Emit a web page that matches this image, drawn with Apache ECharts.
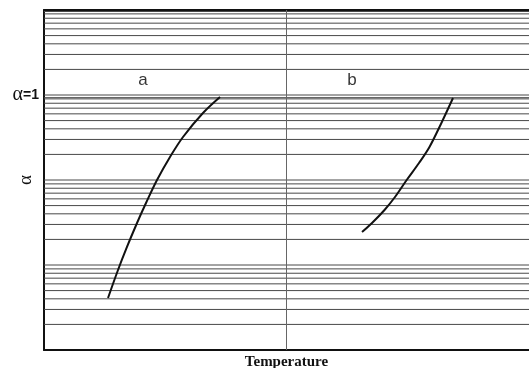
<!DOCTYPE html>
<html>
<head>
<meta charset="utf-8">
<script src="https://cdn.jsdelivr.net/npm/echarts@6/dist/echarts.min.js"></script>
<style>html,body{margin:0;padding:0;background:#fff;}#c{width:529px;height:368px;}</style>
</head>
<body>
<div id="c"></div>
<script>
// Temperature (arbitrary 0-100 scale) and alpha (log scale)
const curveA_T = [13.2, 15.26, 17.11, 19.18, 21.03, 23.3, 25.98, 28.66, 32.78, 36.29];
const curveA_alpha = [0.00409, 0.00873, 0.0163, 0.0312, 0.0536, 0.1, 0.1865, 0.3206, 0.614, 0.947];
const curveB_T = [65.57, 67.63, 70.21, 72.37, 74.78, 77.32, 79.48, 81.94, 84.33];
const curveB_alpha = [0.0244, 0.0312, 0.0444, 0.0631, 0.1, 0.1585, 0.2446, 0.469, 0.922];
// horizontal grid line levels (log paper)
const gridLevels = [
  0.002, 0.003, 0.004, 0.005, 0.006, 0.007, 0.008, 0.009, 0.01,
  0.02, 0.03, 0.04, 0.05, 0.06, 0.07, 0.08, 0.09, 0.1,
  0.2, 0.3, 0.4, 0.5, 0.6, 0.7, 0.8, 0.9, 0.93, 1,
  2, 3, 4, 5, 6, 7, 8, 9, 9.6
];
const dividerT = 50;
const curveLabels = [{name: 'a', T: 20.4, alpha: 1.48}, {name: 'b', T: 63.5, alpha: 1.48}];
const T_MIN = 0, T_MAX = 100, A_MIN = 0.001, A_MAX = 10;

const gridSeries = gridLevels.map(v => ({
  type: 'line', silent: true, symbol: 'none', z: 1,
  data: [[T_MIN, v], [T_MAX, v]],
  lineStyle: {color: '#484848', width: 1}
}));
gridSeries.push({
  type: 'line', silent: true, symbol: 'none', z: 1,
  data: [[dividerT, A_MIN], [dividerT, A_MAX]],
  lineStyle: {color: '#666', width: 1}
});

const chart = echarts.init(document.getElementById('c'));
chart.setOption({
  animation: false,
  grid: {left: 44, right: 0, top: 10, bottom: 18, outerBoundsMode: 'none', containLabel: false},
  xAxis: [{
    type: 'value', min: T_MIN, max: T_MAX,
    name: 'Temperature', nameLocation: 'middle', nameGap: 5, nameMoveOverlap: false,
    nameTextStyle: {fontFamily: 'Liberation Serif', fontWeight: 'bold', fontSize: 15, color: '#111'},
    axisLine: {show: true, lineStyle: {color: '#111', width: 2}},
    axisTick: {show: false}, axisLabel: {show: false}, splitLine: {show: false}
  }, {
    type: 'value', min: T_MIN, max: T_MAX, position: 'top',
    axisLine: {show: true, lineStyle: {color: '#111', width: 2}},
    axisTick: {show: false}, axisLabel: {show: false}, splitLine: {show: false}
  }],
  yAxis: {
    type: 'log', logBase: 10, min: A_MIN, max: A_MAX,
    name: 'α', nameLocation: 'middle', nameGap: 8, nameRotate: 90, nameMoveOverlap: false,
    nameTextStyle: {fontFamily: 'Liberation Serif', fontSize: 19, color: '#111'},
    axisLine: {show: true, lineStyle: {color: '#111', width: 2}},
    axisTick: {show: false}, splitLine: {show: false},
    axisLabel: {
      margin: 5,
      formatter: v => (Math.abs(v - 1) < 1e-9 ? '{g|α}{s|=1}' : ''),
      rich: {
        g: {fontFamily: 'Liberation Serif', fontSize: 20, color: '#111'},
        s: {fontFamily: 'Liberation Sans', fontWeight: 'bold', fontSize: 14, color: '#111'}
      }
    }
  },
  series: gridSeries.concat([
    {
      type: 'line', data: curveA_T.map((t, i) => [t, curveA_alpha[i]]),
      smooth: 0.35, symbol: 'none', lineStyle: {color: '#111', width: 2}, z: 5
    },
    {
      type: 'line', data: curveB_T.map((t, i) => [t, curveB_alpha[i]]),
      smooth: 0.35, symbol: 'none', lineStyle: {color: '#111', width: 2}, z: 5
    },
    {
      type: 'scatter', symbolSize: 0,
      data: curveLabels.map(d => ({name: d.name, value: [d.T, d.alpha]})),
      label: {show: true, position: 'inside', formatter: '{b}', fontFamily: 'Liberation Sans', fontSize: 17, color: '#000'}
    }
  ])
});
</script>
</body>
</html>
